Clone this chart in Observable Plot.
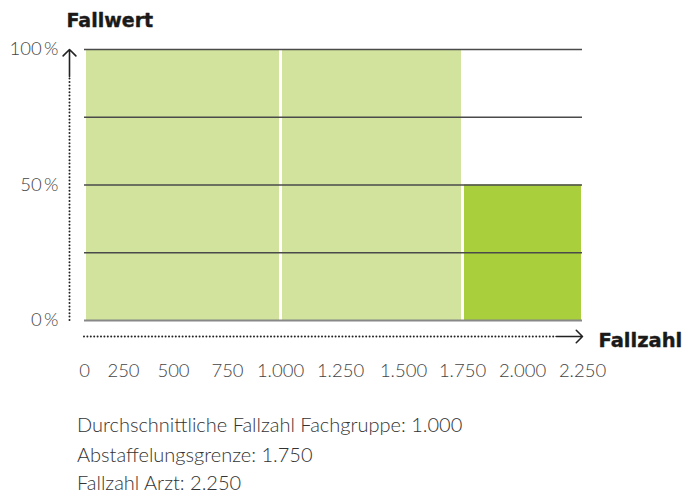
<!DOCTYPE html>
<html>
<head>
<meta charset="utf-8">
<script src="https://cdn.jsdelivr.net/npm/d3@7"></script>
<script src="https://cdn.jsdelivr.net/npm/@observablehq/plot@0.6"></script>
<style>
  html, body { margin: 0; padding: 0; background: #fff; overflow: hidden; }
  body { position: relative; width: 683px; height: 498px; }
  #chart svg { display: block; }
  .caption { position: absolute; left: 77px; font-family: Lato, "Open Sans", sans-serif; font-weight: 300; font-size: 20px; color: #333; line-height: 24px; white-space: nowrap; }
</style>
</head>
<body>
<div id="chart"></div>
<script>
// Data
const segmentStart = [0, 1000, 1750];
const segmentEnd = [1000, 1750, 2250];
const segmentValue = [1, 1, 0.5];
const segmentColor = ["#d1e39c", "#d1e39c", "#a9cf3d"];
const xTicks = [0, 250, 500, 750, 1000, 1250, 1500, 1750, 2000, 2250];
const yTicks = [0, 0.25, 0.5, 0.75, 1];
const yLabelTicks = [0, 0.5, 1];
const captionLines = [
  "Durchschnittliche Fallzahl Fachgruppe: 1.000",
  "Abstaffelungsgrenze: 1.750",
  "Fallzahl Arzt: 2.250"
];

const segments = segmentStart.map((s, i) => ({start: s, end: segmentEnd[i], value: segmentValue[i], color: segmentColor[i]}));
const de = d3.formatLocale({decimal: ",", thousands: ".", grouping: [3], currency: ["", " €"]});
const fmt = de.format(",d");

const lightFont = "Lato, 'Open Sans', sans-serif";
const boldFont = "'DejaVu Sans', sans-serif";

const plot = Plot.plot({
  width: 683,
  height: 395,
  marginLeft: 84,
  marginRight: 101,
  marginTop: 49,
  marginBottom: 75,
  style: {fontFamily: lightFont, fontSize: "18px", color: "#444", background: "#fff"},
  x: {type: "linear", domain: xTicks, range: [84, 123, 173, 227, 280, 340, 403, 462, 522, 582]},
  y: {domain: [0, 1]},
  marks: [
    Plot.rectY(segments, {x1: "start", x2: "end", y1: 0, y2: "value", fill: "color", insetLeft: 2, insetRight: 1}),
    Plot.ruleY(yTicks.filter(d => d > 0), {stroke: "#4a4a4a", strokeWidth: 1.5}),
    Plot.ruleY([0], {stroke: "#888", strokeWidth: 2}),
    Plot.axisX({ticks: xTicks, tickSize: 0, tickPadding: 43, tickFormat: fmt, fontSize: 18.5, fontWeight: 300, fill: "#444", label: null}),
    Plot.axisY({ticks: yLabelTicks, tickSize: 0, tickPadding: 26, tickFormat: d => Math.round(d * 100) + "\u2009%", fontSize: 18.5, fontWeight: 300, fill: "#444", label: null}),
    // dotted axes with arrows
    Plot.ruleX([0], {y1: 0, y2: 0.9, dx: -15, stroke: "#222", strokeWidth: 2, strokeDasharray: "0,3.4", strokeLinecap: "round"}),
    Plot.arrow([0], {x1: 0, x2: 0, y1: 0.9, y2: 1, dx: -15, stroke: "#222", strokeWidth: 1.6, headLength: 12, headAngle: 90}),
    Plot.ruleY([0], {x1: 0, x2: 2140, dy: 16, stroke: "#222", strokeWidth: 2, strokeDasharray: "0,3.4", strokeLinecap: "round"}),
    Plot.arrow([0], {x1: 2140, x2: 2250, y1: 0, y2: 0, dy: 16, stroke: "#222", strokeWidth: 1.6, headLength: 14, headAngle: 90}),
    Plot.text(["Fallwert"], {frameAnchor: "top-left", dx: -18, dy: -36, text: d => d, textAnchor: "start", fontFamily: boldFont, fontWeight: "bold", fontSize: 19, fill: "#1a1a1a", stroke: "#1a1a1a", strokeWidth: 0.4}),
    Plot.text(["Fallzahl"], {x: 2250, y: 0, dx: 16, dy: 20, text: d => d, textAnchor: "start", fontFamily: boldFont, fontWeight: "bold", fontSize: 19.5, fill: "#1a1a1a", stroke: "#1a1a1a", strokeWidth: 0.4})
  ]
});
document.getElementById("chart").append(plot);
const capTops = [417, 447, 475];
captionLines.forEach((l, i) => {
  const div = document.createElement("div");
  div.className = "caption";
  div.style.top = (capTops[i] - 5.5) + "px";
  div.textContent = l;
  document.body.append(div);
});
</script>
</body>
</html>
